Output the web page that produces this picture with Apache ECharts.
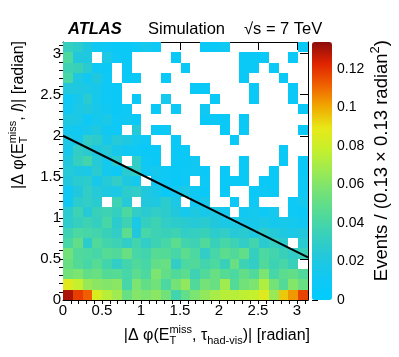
<!DOCTYPE html>
<html>
<head>
<meta charset="utf-8">
<script src="https://cdn.jsdelivr.net/npm/echarts@6/dist/echarts.min.js"></script>
<style>
  html, body { margin: 0; padding: 0; background: #fff; }
  #chart { width: 399px; height: 357px; }
</style>
</head>
<body>
<div id="chart"></div>
<script>
// 25 x 25 bins on [0, pi] x [0, pi]; bin contents in units of 1e-3, 0 = empty bin
const nBins = 25;
const valueUnit = 0.001;
const xTicks = [0, 0.5, 1, 1.5, 2, 2.5, 3];
const yTicks = [0, 0.5, 1, 1.5, 2, 2.5, 3];
const zTicks = [0, 0.02, 0.04, 0.06, 0.08, 0.1, 0.12];
const zMax = 0.134;
// the cut line drawn on top
const cutX = [0, Math.PI];
const cutY = [2.0, 0.52];

// rows from the top bin (y bin 24) down to the bottom one (y bin 0)
const rowsTopDown = [
  [32, 28, 20, 12, 10, 8, 8, 10, 14, 10, 0, 0, 0, 0, 8, 8, 12, 0, 0, 0, 0, 0, 0, 0, 8],
  [42, 22, 20, 0, 18, 10, 8, 0, 0, 0, 0, 8, 0, 0, 0, 0, 0, 0, 8, 8, 8, 0, 0, 8, 0],
  [36, 34, 26, 10, 8, 0, 8, 0, 0, 0, 0, 0, 8, 0, 0, 0, 0, 0, 8, 8, 0, 8, 0, 0, 0],
  [40, 20, 12, 22, 10, 0, 8, 8, 0, 0, 8, 0, 0, 0, 0, 0, 0, 0, 8, 0, 0, 0, 8, 0, 0],
  [22, 20, 18, 16, 10, 8, 0, 0, 0, 0, 0, 0, 0, 8, 8, 0, 0, 0, 0, 8, 0, 0, 0, 8, 0],
  [10, 16, 26, 14, 10, 8, 0, 8, 0, 0, 14, 0, 0, 0, 0, 8, 0, 0, 0, 8, 0, 0, 0, 8, 0],
  [12, 18, 22, 16, 12, 8, 10, 0, 0, 8, 0, 8, 0, 0, 12, 0, 0, 0, 0, 0, 0, 0, 0, 0, 8],
  [20, 18, 10, 14, 18, 10, 12, 8, 0, 0, 0, 0, 0, 0, 8, 8, 8, 0, 8, 0, 0, 0, 0, 0, 0],
  [14, 12, 16, 20, 12, 10, 0, 24, 0, 8, 10, 0, 0, 0, 0, 0, 8, 0, 8, 0, 0, 0, 0, 0, 8],
  [18, 14, 30, 28, 16, 24, 20, 14, 10, 0, 0, 8, 0, 0, 0, 0, 0, 8, 0, 0, 0, 0, 0, 0, 0],
  [16, 30, 26, 20, 24, 16, 12, 10, 8, 8, 0, 8, 8, 0, 0, 0, 0, 0, 0, 0, 0, 0, 8, 0, 0],
  [22, 32, 38, 24, 14, 28, 0, 30, 10, 8, 0, 8, 8, 12, 0, 0, 0, 0, 8, 0, 0, 0, 8, 0, 8],
  [24, 20, 18, 26, 14, 10, 26, 30, 12, 14, 10, 8, 10, 12, 8, 0, 8, 0, 8, 0, 0, 8, 0, 0, 8],
  [22, 26, 28, 16, 24, 30, 20, 14, 0, 12, 10, 8, 10, 0, 10, 0, 8, 8, 8, 0, 8, 8, 0, 0, 10],
  [12, 22, 30, 24, 20, 18, 28, 30, 22, 16, 8, 14, 18, 12, 8, 0, 8, 0, 0, 8, 10, 8, 0, 0, 10],
  [12, 28, 30, 26, 0, 36, 24, 0, 22, 20, 28, 18, 0, 12, 16, 0, 0, 8, 0, 10, 0, 0, 0, 10, 14],
  [26, 36, 24, 34, 36, 32, 42, 30, 26, 30, 28, 22, 14, 20, 16, 20, 14, 0, 12, 14, 10, 14, 0, 10, 8],
  [28, 32, 36, 32, 40, 28, 36, 18, 32, 36, 30, 28, 26, 24, 26, 22, 18, 20, 16, 16, 18, 14, 16, 14, 12],
  [36, 42, 40, 38, 34, 30, 48, 22, 40, 36, 34, 36, 30, 32, 34, 28, 30, 24, 26, 20, 28, 24, 20, 18, 22],
  [40, 50, 28, 44, 38, 36, 30, 38, 30, 36, 40, 48, 38, 36, 44, 34, 40, 36, 30, 38, 26, 32, 28, 0, 26],
  [55, 44, 42, 40, 46, 44, 52, 40, 38, 46, 45, 40, 48, 42, 30, 40, 48, 44, 50, 32, 42, 38, 34, 30, 34],
  [52, 45, 40, 46, 38, 30, 38, 44, 40, 50, 52, 30, 42, 44, 38, 42, 34, 52, 36, 30, 44, 36, 40, 34, 0],
  [55, 58, 50, 52, 45, 46, 40, 48, 42, 58, 50, 44, 48, 36, 44, 52, 46, 42, 50, 44, 58, 40, 48, 50, 44],
  [86, 78, 66, 62, 60, 62, 40, 58, 50, 55, 42, 56, 64, 44, 56, 52, 68, 45, 55, 58, 72, 56, 45, 60, 52],
  [130, 118, 112, 84, 74, 68, 52, 60, 58, 62, 55, 38, 50, 58, 64, 70, 74, 74, 76, 78, 86, 66, 95, 103, 117]
];

const palette = ['#00ccff', '#10c8f4', '#22c8dc', '#38d0bc', '#52da98', '#74e278', '#9cea52',
  '#c6f02c', '#e8e818', '#f0a800', '#f06000', '#e02400', '#8c0c0c'];

const binWidth = Math.PI / nBins;
const cells = [];
rowsTopDown.forEach((row, r) => {
  const iy = nBins - 1 - r;
  row.forEach((v, ix) => {
    if (v > 0) cells.push([ix * binWidth, iy * binWidth, v * valueUnit]);
  });
});

const minorTicks = [];
for (let k = 1; k <= 31; k++) minorTicks.push(k / 10);

// --- text with sub/superscripts, laid out piece by piece
const measure = document.createElement('canvas').getContext('2d');
function textWidth(text, font) {
  measure.font = font;
  return measure.measureText(text).width;
}
function textEl(text, font, x, baseline, size) {
  return {
    type: 'text', x: x, y: baseline - 0.35 * size,
    style: { text: text, font: font, fill: '#000', verticalAlign: 'middle', textVerticalAlign: 'middle' }
  };
}
// pieces: [text] normal, [text, 'i'] italic, [sup, '^_', sub]
function latex(pieces, size) {
  const fam = '"Liberation Sans"';
  const mainFont = size + 'px ' + fam;
  const small = Math.round(size * 0.7);
  const smallFont = small + 'px ' + fam;
  const out = [];
  let x = 0;
  pieces.forEach(p => {
    if (p[1] === '^_') {
      out.push(textEl(p[0], smallFont, x, -0.42 * size, small));
      out.push(textEl(p[2], smallFont, x, 0.25 * size, small));
      x += Math.max(textWidth(p[0], smallFont), textWidth(p[2], smallFont));
    } else if (p[1] === '_') {
      out.push(textEl(p[0], smallFont, x, 0.25 * size, small));
      x += textWidth(p[0], smallFont);
    } else if (p[1] === '^') {
      out.push(textEl(p[0], smallFont, x, -0.42 * size, small));
      x += textWidth(p[0], smallFont);
    } else {
      const f = p[1] === 'i' ? 'italic ' + mainFont : mainFont;
      out.push(textEl(p[0], f, x, 0, size));
      x += textWidth(p[0], f);
    }
  });
  return { children: out, width: x };
}

const xTitle = latex([['|\u0394 \u03c6(E'], ['miss', '^_', 'T'], [', \u03c4'], ['had-vis', '_'], [')| [radian]']], 16);
const yTitle = latex([['|\u0394 \u03c6(E'], ['miss', '^_', 'T'], [', '], ['l', 'i'], [')| [radian]']], 16);
const zTitle = latex([['Events / (0.13 \u00d7 0.13 radian'], ['2', '^'], [')']], 18.5);

const labelFont = { fontFamily: 'Liberation Sans', fontSize: 15, color: '#000' };
const frame = { type: 'value', min: 0, max: Math.PI, gridIndex: 0, splitLine: { show: false } };
const majorTick = { inside: true, length: 8, customValues: xTicks, lineStyle: { color: '#000', width: 1 } };
const minorTick = { inside: true, length: 4, customValues: minorTicks, lineStyle: { color: '#000', width: 1 } };
const line = { onZero: false, lineStyle: { color: '#000', width: 1 } };

const chart = echarts.init(document.getElementById('chart'));
chart.setOption({
  animation: false,
  backgroundColor: '#fff',
  grid: [
    { left: 63, top: 42, width: 245, height: 258, outerBoundsMode: 'none' },
    { left: 312, top: 42, width: 20, height: 258, outerBoundsMode: 'none' }
  ],
  xAxis: [
    { ...frame, position: 'bottom', axisLine: line, axisTick: majorTick,
      axisLabel: { ...labelFont, customValues: xTicks, margin: 3 } },
    { ...frame, position: 'bottom', axisLine: { show: false }, axisTick: minorTick, axisLabel: { show: false } },
    { ...frame, position: 'top', axisLine: line, axisTick: majorTick, axisLabel: { show: false } },
    { ...frame, position: 'top', axisLine: { show: false }, axisTick: minorTick, axisLabel: { show: false } },
    { type: 'value', gridIndex: 1, show: false, min: 0, max: 1 }
  ],
  yAxis: [
    { ...frame, position: 'left', axisLine: line, axisTick: { ...majorTick, customValues: yTicks },
      axisLabel: { ...labelFont, customValues: yTicks, margin: 2 } },
    { ...frame, position: 'left', axisLine: { show: false }, axisTick: minorTick, axisLabel: { show: false } },
    { ...frame, position: 'right', axisLine: line, axisTick: { ...majorTick, customValues: yTicks }, axisLabel: { show: false } },
    { ...frame, position: 'right', axisLine: { show: false }, axisTick: minorTick, axisLabel: { show: false } },
    { type: 'value', gridIndex: 1, position: 'right', min: 0, max: zMax,
      splitLine: { show: false }, axisLine: { show: false },
      axisTick: { customValues: zTicks, length: 6, lineStyle: { color: '#000' } },
      axisLabel: { fontFamily: 'Liberation Sans', fontSize: 14, color: '#000', customValues: zTicks, margin: 5 } }
  ],
  visualMap: {
    type: 'continuous', min: 0, max: zMax, dimension: 2, seriesIndex: 0,
    orient: 'vertical', left: 312, top: 42, itemWidth: 20, itemHeight: 258,
    padding: 0, calculable: false, hoverLink: false, text: null,
    inRange: { color: palette }
  },
  series: [
    {
      type: 'custom', xAxisIndex: 0, yAxisIndex: 0, data: cells, encode: { x: 0, y: 1 },
      renderItem: (params, api) => {
        const x0 = api.value(0);
        const y0 = api.value(1);
        const p0 = api.coord([x0, y0 + binWidth]);
        const p1 = api.coord([x0 + binWidth, y0]);
        const left = Math.round(p0[0]);
        const top = Math.round(p0[1]);
        return {
          type: 'rect',
          shape: { x: left, y: top, width: Math.round(p1[0]) - left, height: Math.round(p1[1]) - top },
          style: { fill: api.visual('color') }
        };
      }
    },
    {
      type: 'line', xAxisIndex: 0, yAxisIndex: 0, z: 5, symbol: 'none', silent: true,
      data: cutX.map((x, i) => [x, cutY[i]]),
      lineStyle: { color: '#000', width: 2 }
    }
  ],
  graphic: [
    textEl('ATLAS', 'italic bold 16.5px "Liberation Sans"', 68, 35, 16.5),
    textEl('Simulation', '16.5px "Liberation Sans"', 148, 35, 16.5),
    textEl('\u221as = 7 TeV', '16.5px "Liberation Sans"', 244, 35, 16.5),
    { type: 'group', x: 310 - xTitle.width, y: 341, children: xTitle.children },
    { type: 'group', x: 24, y: 41 + yTitle.width, rotation: Math.PI / 2, children: yTitle.children },
    { type: 'group', x: 388, y: 40 + zTitle.width, rotation: Math.PI / 2, children: zTitle.children }
  ]
});
</script>
</body>
</html>
